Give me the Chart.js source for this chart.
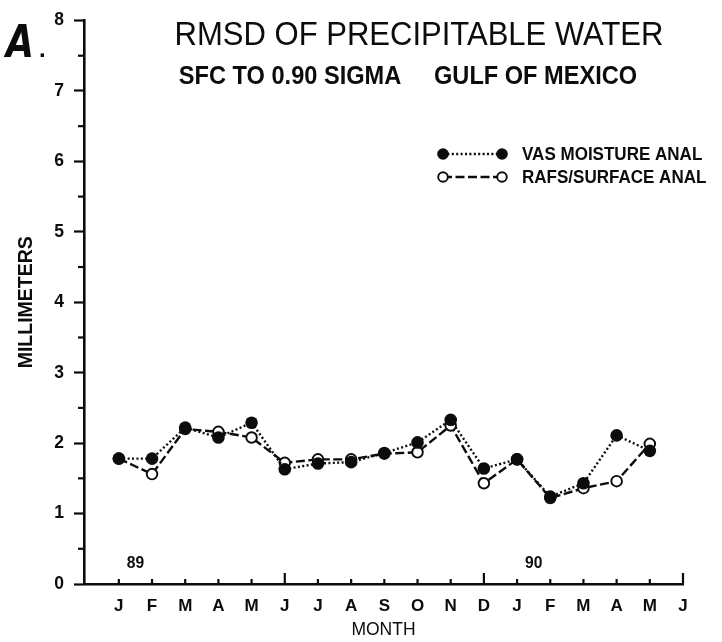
<!DOCTYPE html>
<html>
<head>
<meta charset="utf-8">
<title>RMSD of Precipitable Water</title>
<script src="https://cdn.jsdelivr.net/npm/chart.js@4.4.0/dist/chart.umd.min.js"></script>
<style>
  html, body { margin: 0; padding: 0; background: #fff; }
  #wrap { width: 722px; height: 642px; }
</style>
</head>
<body>
<div id="wrap"><canvas id="rmsd" width="722" height="642"></canvas></div>
<script>
'use strict';

// Months Jan 89 .. Jun 90
const months = ['J', 'F', 'M', 'A', 'M', 'J', 'J', 'A', 'S', 'O', 'N', 'D', 'J', 'F', 'M', 'A', 'M', 'J'];
const majorMonths = [5, 11, 17];           // taller ticks: Jun 89, Dec 89, Jun 90
const yearLabels = [['89', 0.5], ['90', 12.5]];

// Monthly RMSD (mm)
const vasMoisture = [1.78, 1.78, 2.22, 2.08, 2.29, 1.63, 1.71, 1.73, 1.86, 2.01, 2.33, 1.64, 1.77, 1.24, 1.43, 2.11, 1.89];
const rafsSurface = [1.78, 1.56, 2.20, 2.16, 2.08, 1.72, 1.77, 1.77, 1.85, 1.87, 2.25, 1.43, 1.77, 1.22, 1.36, 1.46, 1.99];

const seriesNames = ['VAS MOISTURE ANAL', 'RAFS/SURFACE ANAL'];
const yTicks = [0, 1, 2, 3, 4, 5, 6, 7, 8];

const INK = '#0c0c0c';
const FONT = '"Liberation Sans", Arial, Helvetica, sans-serif';

const toXY = arr => arr.map((v, i) => ({ x: i, y: v }));

// narrow text: draw at full size then squeeze horizontally
const narrowText = (ctx, txt, x, y, sx) => {
    ctx.save();
    ctx.translate(x, y);
    ctx.scale(sx, 1);
    ctx.fillText(txt, 0, 0);
    ctx.restore();
};

// titles, year marks, inward month ticks, half-unit y ticks and the legend
const decorations = {
    id: 'decorations',
    beforeDatasetsDraw(chart) {
        const { ctx, chartArea, scales: { x, y } } = chart;
        ctx.save();
        ctx.strokeStyle = INK;
        ctx.lineWidth = 2.2;
        months.forEach((_, i) => {
            const px = x.getPixelForValue(i);
            const len = majorMonths.includes(i) ? 11 : 5;
            ctx.beginPath();
            ctx.moveTo(px, chartArea.bottom);
            ctx.lineTo(px, chartArea.bottom - len);
            ctx.stroke();
        });
        for (let v = 0.5; v < 8; v += 1) {
            const py = y.getPixelForValue(v);
            ctx.beginPath();
            ctx.moveTo(chartArea.left - 6, py);
            ctx.lineTo(chartArea.left, py);
            ctx.stroke();
        }
        ctx.restore();
    },
    afterDraw(chart) {
        const { ctx, scales: { x, y } } = chart;
        ctx.save();
        ctx.fillStyle = INK;

        ctx.textAlign = 'center';
        ctx.textBaseline = 'alphabetic';
        ctx.font = '33px ' + FONT;
        narrowText(ctx, 'RMSD OF PRECIPITABLE WATER', 419, 45, 0.94);
        ctx.font = 'bold 25.5px ' + FONT;
        narrowText(ctx, 'SFC TO 0.90 SIGMA     GULF OF MEXICO', 408, 84, 0.925);

        ctx.textAlign = 'left';
        ctx.font = 'italic bold 44px "DejaVu Sans", sans-serif';
        narrowText(ctx, 'A', 6, 57, 0.82);
        ctx.font = 'bold 24px ' + FONT;
        ctx.fillText('.', 39, 57);

        ctx.textAlign = 'center';
        ctx.textBaseline = 'middle';
        ctx.font = 'bold 17px ' + FONT;
        yearLabels.forEach(([txt, at]) => {
            narrowText(ctx, txt, x.getPixelForValue(at), y.getPixelForValue(0.3), 0.92);
        });

        // legend
        const rows = [{ y: 154, ds: chart.data.datasets[0] }, { y: 177, ds: chart.data.datasets[1] }];
        rows.forEach(({ y: ry, ds }) => {
            ctx.strokeStyle = INK;
            ctx.lineWidth = ds.borderWidth;
            ctx.setLineDash(ds.borderDash);
            ctx.beginPath();
            ctx.moveTo(443, ry);
            ctx.lineTo(502, ry);
            ctx.stroke();
            ctx.setLineDash([]);
            [443, 502].forEach(mx => {
                ctx.beginPath();
                ctx.arc(mx, ry, ds.pointRadius - 0.5, 0, Math.PI * 2);
                ctx.fillStyle = ds.pointBackgroundColor;
                ctx.fill();
                if (ds.pointBorderWidth) {
                    ctx.lineWidth = ds.pointBorderWidth;
                    ctx.stroke();
                }
            });
            ctx.fillStyle = INK;
            ctx.textAlign = 'left';
            ctx.font = 'bold 18.5px ' + FONT;
            narrowText(ctx, ds.label, 522, ry + 1, 0.92);
        });
        ctx.restore();
    }
};

new Chart(document.getElementById('rmsd'), {
    type: 'line',
    data: {
        datasets: [
            {
                label: seriesNames[0],
                data: toXY(vasMoisture),
                borderColor: INK,
                borderWidth: 2.4,
                borderDash: [2, 2.4],
                pointRadius: 6.3,
                pointBackgroundColor: INK,
                pointBorderWidth: 0,
                tension: 0
            },
            {
                label: seriesNames[1],
                data: toXY(rafsSurface),
                borderColor: INK,
                borderWidth: 2.4,
                borderDash: [9, 3.5],
                pointRadius: 5.3,
                pointBackgroundColor: '#fff',
                pointBorderColor: INK,
                pointBorderWidth: 1.9,
                tension: 0
            }
        ]
    },
    options: {
        responsive: false,
        animation: false,
        layout: { padding: { top: 15, right: 39, left: 0, bottom: 0 } },
        plugins: {
            legend: { display: false },
            tooltip: { enabled: false }
        },
        scales: {
            x: {
                type: 'linear',
                min: -1.05,
                max: 17,
                afterBuildTicks: s => { s.ticks = months.map((_, i) => ({ value: i })); },
                afterFit: s => { s.height = 58; },
                grid: { display: false, drawTicks: false },
                border: { display: true, color: INK, width: 2.6 },
                ticks: {
                    autoSkip: false,
                    maxRotation: 0,
                    padding: 12,
                    color: INK,
                    font: { family: FONT, size: 17, weight: 'bold' },
                    callback: v => months[v] ?? ''
                },
                title: {
                    display: true,
                    text: 'MONTH',
                    color: INK,
                    font: { family: FONT, size: 17.5 },
                    padding: { top: 0, bottom: 1.5 }
                }
            },
            y: {
                min: 0,
                max: 8,
                afterBuildTicks: s => { s.ticks = yTicks.map(v => ({ value: v })); },
                afterFit: s => { s.width = 84; },
                grid: { drawOnChartArea: false, drawTicks: true, tickLength: 10, tickColor: INK, tickWidth: 2.2 },
                border: { display: true, color: INK, width: 2.6 },
                ticks: {
                    padding: 10,
                    color: INK,
                    font: { family: FONT, size: 17.5, weight: 'bold' }
                },
                title: {
                    display: true,
                    text: 'MILLIMETERS',
                    color: INK,
                    font: { family: FONT, size: 19.5, weight: 'bold' },
                    padding: { top: 15, bottom: 0 }
                }
            }
        }
    },
    plugins: [decorations]
});
</script>
</body>
</html>
